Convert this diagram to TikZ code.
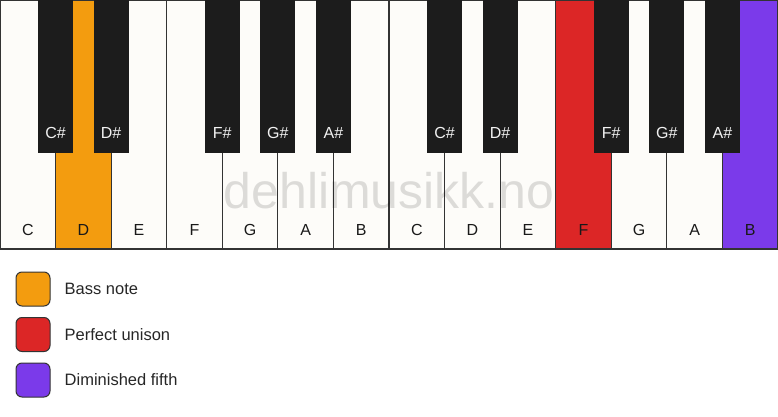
\documentclass[tikz,border=0pt]{standalone}
\usepackage{fontspec}
\setmainfont{Liberation Sans}
\usetikzlibrary{positioning}

\definecolor{ivory}{HTML}{FDFCF9}
\definecolor{keyblack}{HTML}{1C1C1C}
\definecolor{keyedge}{HTML}{333333}
\definecolor{bassorange}{HTML}{F39C0F}
\definecolor{unisonred}{HTML}{DC2626}
\definecolor{fifthpurple}{HTML}{7B3AEA}

\tikzset{
  keyfont/.style={font=\fontsize{16}{19}\selectfont},
  white key/.style={draw=keyedge,line width=1.2pt,fill=ivory,outer sep=0pt,inner sep=0pt,
    minimum width=55.57pt,minimum height=249pt,
    label={[keyfont,text=black!90,anchor=center,label distance=-19pt]south:#1}},
  black key/.style={fill=keyblack,outer sep=0pt,inner sep=0pt,anchor=north,
    minimum width=35pt,minimum height=153pt,
    label={[keyfont,text=white!95!black,anchor=center,label distance=-20pt]south:#1}},
  legend box/.style={draw=keyedge,line width=1pt,rounded corners=6pt,
    minimum width=34pt,minimum height=34pt,inner sep=0pt,
    label={[font=\fontsize{16.5}{20}\selectfont,text=black!85,inner sep=0pt,label distance=14pt]east:#1}}
}

\begin{document}
\begin{tikzpicture}[node distance = 55.57pt,x=1pt,y=1pt]
\useasboundingbox (0,0) rectangle (778,-417);

% white keys
\node[white key=C](1) at (27.785,-124.5){};
\node[white key=D,fill=bassorange](2)[right of = 1]{};
\node[white key=E](3)[right of = 2]{};
\node[white key=F](4)[right of = 3]{};
\node[white key=G](5)[right of = 4]{};
\node[white key=A](6)[right of = 5]{};
\node[white key=B](7)[right of = 6]{};
\node[white key=C](8)[right of = 7]{};
\node[white key=D](9)[right of = 8]{};
\node[white key=E](10)[right of = 9]{};
\node[white key=F,fill=unisonred](11)[right of = 10]{};
\node[white key=G](12)[right of = 11]{};
\node[white key=A](13)[right of = 12]{};
\node[white key=B,fill=fifthpurple](14)[right of = 13]{};

% watermark
\node[text=black,opacity=0.13,font=\fontsize{50}{60}\selectfont](wm) at (389,-191){dehlimusikk.no};

% black keys
\node[black key=C\#](s1) at (1.north east){};
\node[black key=D\#](s2) at (2.north east){};
\node[black key=F\#](s3) at (4.north east){};
\node[black key=G\#](s4) at (5.north east){};
\node[black key=A\#](s5) at (6.north east){};
\node[black key=C\#](s6) at (8.north east){};
\node[black key=D\#](s7) at (9.north east){};
\node[black key=F\#](s8) at (11.north east){};
\node[black key=G\#](s9) at (12.north east){};
\node[black key=A\#](s10) at (13.north east){};

% legend
\node[legend box=Bass note,fill=bassorange](l1) at (33,-289){};
\node[legend box=Perfect unison,fill=unisonred](l2)[below=10.5pt of l1]{};
\node[legend box=Diminished fifth,fill=fifthpurple](l3)[below=10.5pt of l2]{};
\end{tikzpicture}
\end{document}
